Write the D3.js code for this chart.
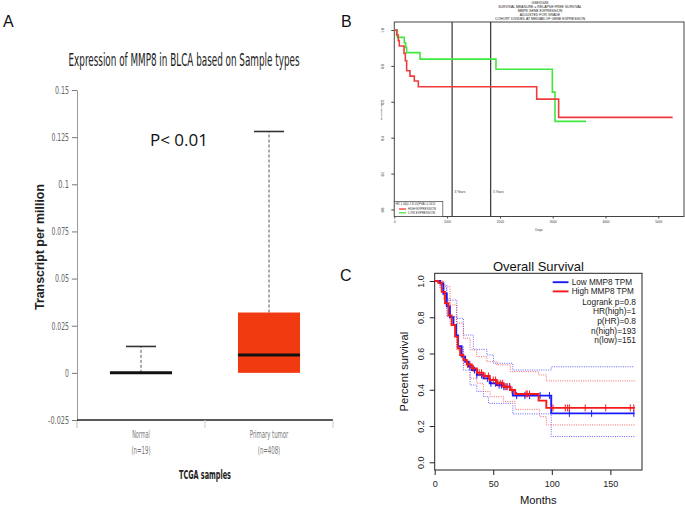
<!DOCTYPE html>
<html><head><meta charset="utf-8">
<script src="https://cdn.jsdelivr.net/npm/d3@7/dist/d3.min.js"></script>
<style>body{margin:0;background:#fff}svg{display:block}</style>
</head><body>
<svg id="c" width="685" height="505"></svg>
<script>
// ---------- Panel A data ----------
const boxCategories = ["Normal", "Primary tumor"];
const boxCounts = [19, 408];
const boxMin = [0, 0];
const boxQ1 = [0, 0];
const boxMedian = [0, 0.0095];
const boxQ3 = [0, 0.032];
const boxMax = [0.014, 0.128];
const boxTicks = [-0.025, 0, 0.025, 0.05, 0.075, 0.1, 0.125, 0.15];
const boxTickLabels = ["-0.025", "0", "0.025", "0.05", "0.075", "0.1", "0.125", "0.15"];

// ---------- Panel B data (days vs relapse-free survival) ----------
const bHighDays = [0, 45, 76, 95, 184, 209, 234, 297, 379, 455, 2697, 3113, 5272];
const bHighSurv = [1, 0.972, 0.941, 0.911, 0.87, 0.829, 0.773, 0.743, 0.716, 0.684, 0.615, 0.513, 0.513];
const bLowDays = [0, 57, 189, 215, 234, 487, 1926, 2993, 3044, 3631];
const bLowSurv = [1, 0.959, 0.929, 0.903, 0.874, 0.838, 0.781, 0.654, 0.491, 0.491];
const bXTicks = [0, 1000, 2000, 3000, 4000, 5000];
const bYTicks = [0, 0.2, 0.4, 0.6, 0.8, 1.0];
const bMarkers = [1095, 1825];
const bMarkerLabels = ["3 Years", "5 Years"];
const bTitleLines = ["GSE31684", "SURVIVAL MEASURE = RELAPSE FREE SURVIVAL", "MMP8 GENE EXPRESSION", "ADJUSTED FOR GRADE", "COHORT DIVIDED AT MEDIAN OF GENE EXPRESSION"];

// ---------- Panel C data (months vs overall survival) ----------
const cLowMonths = [0, 4.6, 7.4, 10.3, 13, 16, 18.3, 20, 23, 26, 29, 31.7, 36, 41.6, 47, 53, 58.8, 64.5, 66.7, 99.5, 170.6];
const cLowSurv = [1, 0.987, 0.93, 0.86, 0.80, 0.757, 0.70, 0.64, 0.583, 0.555, 0.528, 0.509, 0.482, 0.463, 0.436, 0.426, 0.417, 0.399, 0.368, 0.27, 0.27];
const cHighMonths = [0, 3, 6, 8.8, 11.7, 14.5, 17.4, 19.7, 21.7, 24.5, 27.4, 31.7, 36, 41.6, 47, 53, 58.8, 64.5, 68.7, 88.7, 95.3, 171];
const cHighSurv = [1, 0.99, 0.94, 0.877, 0.81, 0.757, 0.693, 0.629, 0.592, 0.564, 0.54, 0.518, 0.494, 0.476, 0.454, 0.436, 0.417, 0.399, 0.377, 0.34, 0.30, 0.30];
const cLowUpperMonths = [0, 4.6, 10.3, 18.8, 24.5, 33, 44.5, 50.2, 66.7, 99.5, 170.6];
const cLowUpperSurv = [1, 0.978, 0.895, 0.794, 0.702, 0.623, 0.592, 0.546, 0.509, 0.527, 0.527];
const cLowLowerMonths = [0, 4.6, 10.3, 18.8, 24.5, 30.2, 36, 41.6, 45.9, 66.7, 99.5, 170.6];
const cLowLowerSurv = [1, 0.96, 0.803, 0.638, 0.509, 0.426, 0.39, 0.362, 0.325, 0.267, 0.142, 0.142];
const cHighUpperMonths = [0, 7.4, 13.1, 18.8, 24.5, 30.2, 35.9, 44.5, 53, 64.5, 88.7, 95.3, 171];
const cHighUpperSurv = [1, 0.969, 0.868, 0.767, 0.684, 0.62, 0.583, 0.555, 0.537, 0.5, 0.482, 0.449, 0.449];
const cHighLowerMonths = [0, 7.4, 13.1, 18.8, 24.5, 30.2, 35.9, 41.6, 47.3, 58.8, 68.7, 89.6, 95.3, 171];
const cHighLowerSurv = [1, 0.904, 0.757, 0.62, 0.537, 0.463, 0.436, 0.39, 0.362, 0.335, 0.292, 0.252, 0.206, 0.206];
const cLowCensor = [30, 34, 36, 40, 45, 48, 52, 55, 57, 59, 61, 64, 70, 77, 81, 90, 98, 115, 134, 170];
const cHighCensor = [28, 30, 33, 38, 40, 43, 46, 50, 52, 54, 56, 58, 60, 62, 64, 66, 78, 79, 81, 101, 111.5, 113.5, 115, 128.5, 146, 167, 170];
const cXTicks = [0, 50, 100, 150];
const cYTicks = [0, 0.2, 0.4, 0.6, 0.8, 1.0];
const cLegendLines = ["Low MMP8 TPM", "High MMP8 TPM"];
const cStats = ["Logrank p=0.8", "HR(high)=1", "p(HR)=0.8", "n(high)=193", "n(low)=151"];

// ---------- drawing ----------
const svg = d3.select("#c");
svg.append("rect").attr("width", 685).attr("height", 505).attr("fill", "#fff");
const narrow = "'Liberation Sans Narrow','Arial Narrow','DejaVu Sans Condensed',sans-serif";
const arial = "'Liberation Sans',Arial,sans-serif";

// panel letters
[["A", 3, 27], ["B", 341, 27], ["C", 340, 281]].forEach(([t, x, y]) => {
  svg.append("text").attr("x", x).attr("y", y).text(t)
    .attr("font-family", arial).attr("font-size", 16).attr("fill", "#111");
});

// ===== Panel A =====
const yA = d3.scaleLinear().domain([-0.025, 0.15]).range([420, 90]);
const xA = d3.scaleBand().domain(boxCategories).range([77, 333]);
const gA = svg.append("g");
gA.append("text").attr("x", 184).attr("y", 66).attr("text-anchor", "middle")
  .attr("font-family", narrow).attr("font-size", 17).attr("fill", "#222")
  .attr("textLength", 231).attr("lengthAdjust", "spacingAndGlyphs")
  .text("Expression of MMP8 in BLCA based on Sample types");

const axA = d3.axisLeft(yA).tickValues(boxTicks).tickFormat((d, i) => boxTickLabels[i]).tickSize(5).tickSizeOuter(0).tickPadding(3);
gA.append("g").attr("transform", "translate(77,0)").call(axA)
  .call(g => g.select(".domain").attr("stroke", "#999"))
  .call(g => g.selectAll(".tick line").attr("stroke", "#777"))
  .call(g => g.selectAll(".tick text").attr("fill", "#666").attr("font-family", narrow).attr("font-size", 10.5)
    .attr("textLength", function () { const s = this.textContent; return s.length * 3.4 + 0.5; })
    .attr("lengthAdjust", "spacingAndGlyphs"));
gA.append("line").attr("x1", 77).attr("x2", 77).attr("y1", yA(-0.025)).attr("y2", yA(-0.025) + 8).attr("stroke", "#bbb");

// x axis
gA.append("line").attr("x1", xA.range()[0]).attr("x2", xA.range()[1]).attr("y1", yA(-0.025)).attr("y2", yA(-0.025))
  .attr("stroke", "#222").attr("stroke-width", 1.5);
boxCategories.forEach(c => {
  const xb = xA(c) + xA.bandwidth();
  gA.append("line").attr("x1", xb).attr("x2", xb).attr("y1", yA(-0.025)).attr("y2", yA(-0.025) + 8).attr("stroke", "#ccc");
});
boxCategories.forEach((c, i) => {
  const cx = xA(c) + xA.bandwidth() / 2;
  const l2 = "(n=" + boxCounts[i] + ")";
  gA.append("text").attr("x", cx).attr("y", 438).attr("text-anchor", "middle").attr("font-family", narrow).attr("font-size", 10).attr("fill", "#777")
    .attr("textLength", c.length * 2.95).attr("lengthAdjust", "spacingAndGlyphs").text(c);
  gA.append("text").attr("x", cx).attr("y", 454).attr("text-anchor", "middle").attr("font-family", narrow).attr("font-size", 10).attr("fill", "#777")
    .attr("textLength", l2.length * 3.2).attr("lengthAdjust", "spacingAndGlyphs").text(l2);
});
gA.append("text").attr("x", 205).attr("y", 479).attr("text-anchor", "middle").attr("font-family", narrow)
  .attr("font-weight", "bold").attr("font-size", 13).attr("fill", "#222").attr("textLength", 52).attr("lengthAdjust", "spacingAndGlyphs").text("TCGA samples");
gA.append("text").attr("transform", "translate(44," + ((yA(0.15) + yA(-0.025)) / 2 - 8) + ") rotate(-90)")
  .attr("text-anchor", "middle").attr("font-family", arial).attr("font-weight", "bold").attr("font-size", 12.4).attr("fill", "#222")
  .text("Transcript per million");

// boxes
boxCategories.forEach((c, i) => {
  const cx = xA(c) + xA.bandwidth() / 2;
  const bw = xA.bandwidth() * 0.485;
  gA.append("line").attr("x1", cx).attr("x2", cx).attr("y1", yA(boxQ3[i])).attr("y2", yA(boxMax[i]))
    .attr("stroke", "#555").attr("stroke-dasharray", "3,2");
  gA.append("line").attr("x1", cx - 15).attr("x2", cx + 15).attr("y1", yA(boxMax[i])).attr("y2", yA(boxMax[i]))
    .attr("stroke", "#333").attr("stroke-width", 1.6);
  if (boxQ3[i] > boxQ1[i]) {
    gA.append("rect").attr("x", cx - bw / 2).attr("width", bw).attr("y", yA(boxQ3[i])).attr("height", yA(boxQ1[i]) - yA(boxQ3[i]))
      .attr("fill", "#f23a10");
  }
  if (boxMin[i] < boxQ1[i]) {
    gA.append("line").attr("x1", cx).attr("x2", cx).attr("y1", yA(boxQ1[i])).attr("y2", yA(boxMin[i])).attr("stroke", "#555").attr("stroke-dasharray", "3,2");
  }
  gA.append("line").attr("x1", cx - bw / 2).attr("x2", cx + bw / 2).attr("y1", yA(boxMedian[i])).attr("y2", yA(boxMedian[i]))
    .attr("stroke", "#111").attr("stroke-width", 3);
});
gA.append("text").attr("x", 150).attr("y", 146).attr("font-family", "'Open Sans',sans-serif").attr("font-size", 17).attr("fill", "#111")
  .text("P< 0.01");

// ===== Panel B =====
const xB = d3.scaleLinear().domain([0, 5487]).range([394.3, 684]);
const yB = d3.scaleLinear().domain([0, 1]).range([209.5, 30]);
const gB = svg.append("g");
const bTop = 22, bBot = 216.5;
bTitleLines.forEach((t, i) => {
  gB.append("text").attr("x", 540).attr("y", 4 + i * 4.1).attr("text-anchor", "middle").attr("font-family", arial)
    .attr("font-size", 3.5).attr("fill", "#222").text(t);
});
gB.append("rect").attr("x", xB.range()[0]).attr("y", bTop).attr("width", xB.range()[1] - xB.range()[0]).attr("height", bBot - bTop)
  .attr("fill", "none").attr("stroke", "#444").attr("stroke-width", 1);
gB.append("g").attr("transform", "translate(0," + bBot + ")")
  .call(d3.axisBottom(xB).tickValues(bXTicks).tickFormat(d3.format("d")).tickSize(2).tickPadding(2.5).tickSizeOuter(0))
  .call(g => g.select(".domain").remove())
  .call(g => g.selectAll(".tick text").attr("font-size", 3.2).attr("font-family", arial).attr("fill", "#333"))
  .call(g => g.selectAll(".tick line").attr("stroke", "#444"));
gB.append("g").attr("transform", "translate(" + xB.range()[0] + ",0)")
  .call(d3.axisLeft(yB).tickValues(bYTicks).tickFormat(d3.format(".1f")).tickSize(3).tickSizeOuter(0))
  .call(g => g.select(".domain").remove())
  .call(g => g.selectAll(".tick line").attr("stroke", "#444"))
  .call(g => g.selectAll(".tick text").attr("x", null).attr("dy", null).attr("text-anchor", "middle")
    .attr("transform", "translate(-10,0) rotate(-90)").attr("font-size", 3.2).attr("font-family", arial).attr("fill", "#333"));
gB.append("text").attr("x", 539).attr("y", 231).attr("text-anchor", "middle").attr("font-family", arial).attr("font-size", 3.2).attr("fill", "#333").text("Days");
gB.append("text").attr("transform", "translate(382,110) rotate(-90)").attr("text-anchor", "middle").attr("font-family", arial)
  .attr("font-size", 1.6).attr("fill", "#333").text("RELAPSE FREE SURVIVAL");
bMarkers.forEach((d, i) => {
  gB.append("line").attr("x1", xB(d)).attr("x2", xB(d)).attr("y1", bTop).attr("y2", bBot).attr("stroke", "#333").attr("stroke-width", 1.2);
  gB.append("text").attr("x", xB(d) + 2.5).attr("y", 192.5).attr("font-family", arial).attr("font-size", 3.2).attr("fill", "#333").text(bMarkerLabels[i]);
});
const lineB = d3.line().x(d => xB(d[0])).y(d => yB(d[1])).curve(d3.curveStepAfter);
gB.append("path").attr("d", lineB(d3.zip(bLowDays, bLowSurv))).attr("fill", "none").attr("stroke", "#3fe83f").attr("stroke-width", 1.6);
gB.append("path").attr("d", lineB(d3.zip(bHighDays, bHighSurv))).attr("fill", "none").attr("stroke", "#f03c3c").attr("stroke-width", 1.6);
// legend
gB.append("rect").attr("x", 394.3).attr("y", 201.5).attr("width", 48.5).attr("height", bBot - 201.5).attr("fill", "#fff").attr("stroke", "#444").attr("stroke-width", 0.7);
gB.append("text").attr("x", 395.5).attr("y", 205.2).attr("font-family", arial).attr("font-size", 2.9).attr("fill", "#333").text("HR 2.44(0.7-8.53)PVAL 0.1615");
[["HIGH EXPRESSION", "#f03c3c", 209], ["LOW EXPRESSION", "#3fe83f", 212.8]].forEach(([t, col, y]) => {
  gB.append("line").attr("x1", 399).attr("x2", 406).attr("y1", y).attr("y2", y).attr("stroke", col).attr("stroke-width", 1.3);
  gB.append("text").attr("x", 408).attr("y", y + 1.1).attr("font-family", arial).attr("font-size", 3).attr("fill", "#333").text(t);
});

// ===== Panel C =====
const xC = d3.scaleLinear().domain([0, 177]).range([434.7, 642]);
const yC = d3.scaleLinear().domain([0, 1]).range([462.3, 281]);
const gC = svg.append("g");
const cTop = 273.3, cBot = 470;
gC.append("text").attr("x", 538.4).attr("y", 270.5).attr("text-anchor", "middle").attr("font-family", arial).attr("font-size", 13).attr("fill", "#111").text("Overall Survival");
gC.append("rect").attr("x", xC.range()[0]).attr("y", cTop).attr("width", xC.range()[1] - xC.range()[0]).attr("height", cBot - cTop)
  .attr("fill", "none").attr("stroke", "#222").attr("stroke-width", 1);
gC.append("g").attr("transform", "translate(0," + cBot + ")")
  .call(d3.axisBottom(xC).tickValues(cXTicks).tickFormat(d3.format("d")).tickSize(5).tickPadding(6).tickSizeOuter(0))
  .call(g => g.select(".domain").remove())
  .call(g => g.selectAll(".tick line").attr("stroke", "#222"))
  .call(g => g.selectAll(".tick text").attr("font-family", arial).attr("font-size", 9).attr("fill", "#222"));
gC.append("g").attr("transform", "translate(" + xC.range()[0] + ",0)")
  .call(d3.axisLeft(yC).tickValues(cYTicks).tickFormat(d3.format(".1f")).tickSize(5).tickSizeOuter(0))
  .call(g => g.select(".domain").remove())
  .call(g => g.selectAll(".tick line").attr("stroke", "#222"))
  .call(g => g.selectAll(".tick text").attr("x", null).attr("dy", null).attr("text-anchor", "middle")
    .attr("transform", "translate(-11,0) rotate(-90)").attr("font-family", arial).attr("font-size", 9).attr("fill", "#222"));
gC.append("text").attr("transform", "translate(408," + ((yC(0) + yC(1)) / 2) + ") rotate(-90)").attr("text-anchor", "middle")
  .attr("font-family", arial).attr("font-size", 11.2).attr("fill", "#111").text("Percent survival");
gC.append("text").attr("x", (xC.range()[0] + xC.range()[1]) / 2).attr("y", 504).attr("text-anchor", "middle")
  .attr("font-family", arial).attr("font-size", 11.2).attr("fill", "#111").text("Months");

const lineC = d3.line().x(d => xC(d[0])).y(d => yC(d[1])).curve(d3.curveStepAfter);
const blue = "#1a1aff", red = "#f51a1a";
[[cLowUpperMonths, cLowUpperSurv, blue], [cLowLowerMonths, cLowLowerSurv, blue],
 [cHighUpperMonths, cHighUpperSurv, red], [cHighLowerMonths, cHighLowerSurv, red]].forEach(([m, s, col]) => {
  gC.append("path").attr("d", lineC(d3.zip(m, s))).attr("fill", "none").attr("stroke", col).attr("stroke-opacity", 0.75)
    .attr("stroke-width", 0.9).attr("stroke-dasharray", "1,1.3");
});
function stepAt(ms, ss, t) {
  let v = ss[0];
  for (let i = 0; i < ms.length; i++) { if (ms[i] <= t) v = ss[i]; }
  return v;
}
[[cLowMonths, cLowSurv, cLowCensor, blue], [cHighMonths, cHighSurv, cHighCensor, red]].forEach(([m, s, cens, col]) => {
  gC.append("path").attr("d", lineC(d3.zip(m, s))).attr("fill", "none").attr("stroke", col).attr("stroke-width", 1.9);
  cens.forEach(t => {
    const v = stepAt(m, s, t);
    gC.append("line").attr("x1", xC(t)).attr("x2", xC(t)).attr("y1", yC(v) - 3.5).attr("y2", yC(v) + 3.5).attr("stroke", col).attr("stroke-width", 1);
  });
});
// legend
const legX2 = 636;
cLegendLines.forEach((t, i) => {
  const y = 282.2 + i * 9.2;
  const col = i === 0 ? blue : red;
  gC.append("line").attr("x1", 552.7).attr("x2", 568.5).attr("y1", y).attr("y2", y).attr("stroke", col).attr("stroke-width", 1.9);
  gC.append("text").attr("x", 571.7).attr("y", y + 2.9).attr("font-family", arial).attr("font-size", 8.2).attr("fill", "#222").text(t);
});
cStats.forEach((t, i) => {
  gC.append("text").attr("x", legX2).attr("y", 304.5 + i * 9.7).attr("text-anchor", "end").attr("font-family", arial)
    .attr("font-size", 8.4).attr("fill", "#222").text(t);
});
</script>
</body></html>
